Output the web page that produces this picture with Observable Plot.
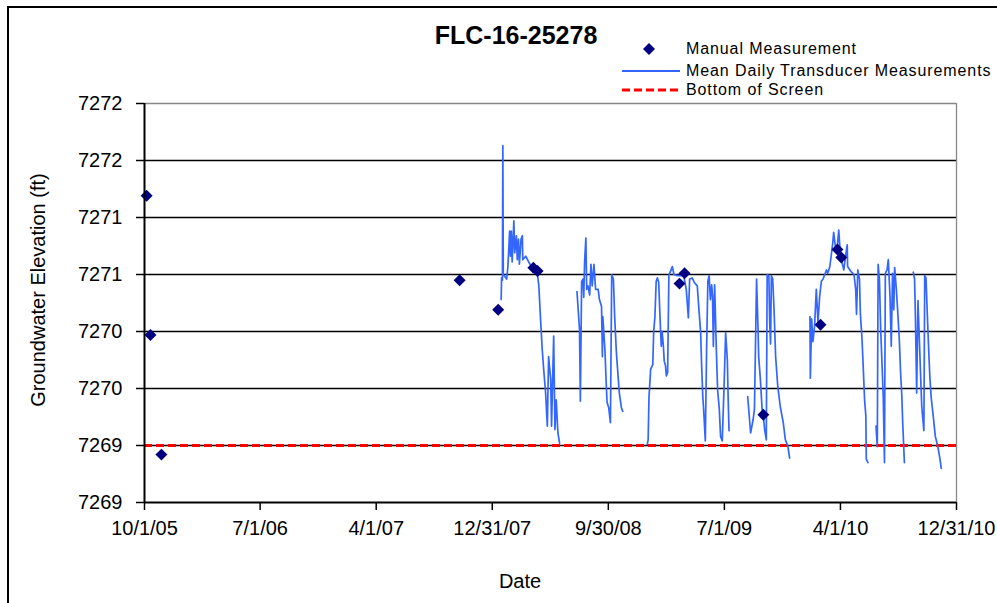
<!DOCTYPE html>
<html><head><meta charset="utf-8">
<script src="https://cdn.jsdelivr.net/npm/d3@7"></script>
<script src="https://cdn.jsdelivr.net/npm/@observablehq/plot@0.6"></script>
<style>
html,body{margin:0;padding:0;background:#fff;}
#wrap{position:relative;width:997px;height:603px;overflow:hidden;font-family:"Liberation Sans",Arial,sans-serif;background:#fff;}
#chart{position:absolute;left:0;top:0;}
#frame{position:absolute;left:7px;top:6px;width:1100px;height:800px;border:2px solid #000;box-sizing:border-box;background:transparent;}
.t{position:absolute;white-space:nowrap;color:#000;line-height:1;}
.lg{position:absolute;left:618px;height:16px;display:flex;align-items:center;font-size:16px;letter-spacing:0.9px;line-height:16px;white-space:nowrap;}
.lg svg{width:64px;height:16px;margin-right:4px;flex:none;}
</style></head><body>
<div id="wrap">
<div id="chart"></div>
<div id="frame"></div>
<div class="t" style="left:516px;top:35px;transform:translate(-50%,-50%);font-size:25px;font-weight:bold">FLC-16-25278</div>
<div class="t" style="left:38px;top:290px;transform:translate(-50%,-50%) rotate(-90deg);font-size:20px">Groundwater Elevation (ft)</div>
<div class="t" style="left:520px;top:581px;transform:translate(-50%,-50%);font-size:20px">Date</div>
<div class="lg" style="top:41px"><svg><path d="M31,2 L37,8 L31,14 L25,8 Z" fill="#000080"/></svg>Manual Measurement</div>
<div class="lg" style="top:63px"><svg><line x1="4" y1="8" x2="62" y2="8" stroke="#3366ff" stroke-width="2"/></svg>Mean Daily Transducer Measurements</div>
<div class="lg" style="top:82px"><svg><line x1="4" y1="8" x2="62" y2="8" stroke="#ff0000" stroke-width="3" stroke-dasharray="8,4"/></svg>Bottom of Screen</div>
</div>
<script>
// ---- data ----
const xStart = "2005-10-01";
const xEnd = "2010-12-31";
const xTickDates = ["2005-10-01","2006-07-01","2007-04-01","2007-12-31","2008-09-30","2009-07-01","2010-04-01","2010-12-31"];
const yTicks = [7268.5, 7269, 7269.5, 7270, 7270.5, 7271, 7271.5, 7272];
const bottomOfScreen = 7269.0;

const manualDates = ["2005-10-06","2005-10-15","2005-11-10","2007-10-15","2008-01-14","2008-04-06","2008-04-16","2009-03-17","2009-03-29","2009-10-01","2010-02-13","2010-03-25","2010-04-03"];
const manualLevels = [7271.19, 7269.97, 7268.92, 7270.45, 7270.19, 7270.56, 7270.53, 7270.42, 7270.51, 7269.27, 7270.06, 7270.72, 7270.65];

const run1 = [["2008-01-21",7270.28],["2008-01-22",7270.47],["2008-01-24",7270.45],["2008-01-25",7271.63],["2008-01-26",7270.50],["2008-02-03",7270.46],["2008-02-06",7270.57],["2008-02-10",7270.88],["2008-02-12",7270.66],["2008-02-14",7270.88],["2008-02-16",7270.61],["2008-02-20",7270.97],["2008-02-22",7270.69],["2008-02-26",7270.84],["2008-02-28",7270.63],["2008-03-02",7270.81],["2008-03-04",7270.59],["2008-03-08",7270.81],["2008-03-11",7270.84],["2008-03-12",7270.63],["2008-03-19",7270.66],["2008-03-26",7270.61],["2008-04-03",7270.56],["2008-04-15",7270.52],["2008-04-19",7270.40],["2008-04-23",7270.11],["2008-04-27",7269.84],["2008-05-01",7269.64],["2008-05-05",7269.46],["2008-05-09",7269.17],["2008-05-12",7269.78],["2008-05-17",7269.58],["2008-05-19",7269.17],["2008-05-24",7269.96],["2008-05-27",7269.14],["2008-05-30",7269.40],["2008-06-03",7269.11],["2008-06-07",7269.02]];
const run2 = [["2008-07-18",7270.35],["2008-07-24",7270.02],["2008-07-26",7269.39],["2008-07-29",7270.44],["2008-08-01",7270.46],["2008-08-03",7270.30],["2008-08-05",7270.61],["2008-08-08",7270.82],["2008-08-10",7270.37],["2008-08-13",7270.40],["2008-08-17",7270.32],["2008-08-20",7270.59],["2008-08-23",7270.40],["2008-08-27",7270.59],["2008-08-31",7270.37],["2008-09-06",7270.37],["2008-09-09",7270.28],["2008-09-14",7270.22],["2008-09-16",7269.78],["2008-09-17",7270.13],["2008-09-22",7269.84],["2008-09-25",7269.55],["2008-09-27",7269.38],["2008-10-01",7269.33],["2008-10-05",7269.20],["2008-10-08",7270.50],["2008-10-12",7270.46],["2008-10-15",7270.13],["2008-10-19",7269.82],["2008-10-23",7269.61],["2008-10-26",7269.46],["2008-10-31",7269.33],["2008-11-03",7269.30]];
const run3 = [["2008-12-31",7269.01],["2009-01-02",7269.05],["2009-01-04",7269.42],["2009-01-08",7269.67],["2009-01-13",7269.71],["2009-01-15",7269.99],["2009-01-18",7270.13],["2009-01-21",7270.44],["2009-01-24",7270.47],["2009-01-27",7270.43],["2009-01-30",7270.13],["2009-02-02",7269.87],["2009-02-04",7270.00],["2009-02-07",7269.87],["2009-02-09",7269.74],["2009-02-12",7269.70],["2009-02-14",7269.61],["2009-02-17",7269.64],["2009-02-20",7270.49],["2009-02-24",7270.53],["2009-02-28",7270.57],["2009-03-04",7270.50],["2009-03-12",7270.49],["2009-03-19",7270.49],["2009-03-27",7270.49],["2009-04-02",7270.37],["2009-04-07",7270.12],["2009-04-10",7270.46],["2009-04-16",7270.47],["2009-04-21",7270.43],["2009-04-28",7270.40],["2009-05-02",7270.19],["2009-05-06",7269.99],["2009-05-08",7269.73],["2009-05-11",7269.43],["2009-05-13",7269.32],["2009-05-17",7269.04],["2009-05-20",7269.84],["2009-05-23",7270.44],["2009-05-26",7270.49],["2009-05-29",7270.28],["2009-06-01",7270.41],["2009-06-03",7270.31],["2009-06-05",7269.87],["2009-06-08",7270.41],["2009-06-10",7270.13],["2009-06-12",7269.84],["2009-06-15",7269.49],["2009-06-19",7269.32],["2009-06-22",7269.08],["2009-06-26",7269.04],["2009-06-30",7269.49],["2009-07-04",7269.99],["2009-07-08",7269.75],["2009-07-10",7269.40],["2009-07-12",7269.13]];
const run4 = [["2009-08-25",7269.43],["2009-09-01",7269.11],["2009-09-07",7269.23],["2009-09-10",7269.32],["2009-09-15",7270.46],["2009-09-18",7270.08],["2009-09-20",7269.78],["2009-09-24",7269.58],["2009-09-28",7269.32],["2009-10-01",7269.26],["2009-10-04",7269.14],["2009-10-08",7269.05],["2009-10-10",7270.50],["2009-10-14",7270.49],["2009-10-16",7270.08],["2009-10-18",7269.89],["2009-10-20",7270.49],["2009-10-23",7270.46],["2009-10-26",7270.22],["2009-10-30",7269.78],["2009-11-04",7269.52],["2009-11-10",7269.34],["2009-11-17",7269.20],["2009-11-22",7269.05],["2009-11-28",7268.99],["2009-12-02",7268.89]];
const run5 = [["2010-01-19",7270.13],["2010-01-20",7269.59],["2010-01-23",7270.11],["2010-01-26",7269.91],["2010-01-30",7270.05],["2010-02-03",7270.37],["2010-02-07",7270.08],["2010-02-11",7270.31],["2010-02-15",7270.44],["2010-02-19",7270.46],["2010-02-23",7270.50],["2010-02-27",7270.54],["2010-03-02",7270.51],["2010-03-07",7270.57],["2010-03-10",7270.66],["2010-03-14",7270.78],["2010-03-16",7270.87],["2010-03-20",7270.75],["2010-03-24",7270.72],["2010-03-28",7270.89],["2010-03-31",7270.72],["2010-04-05",7270.60],["2010-04-09",7270.54],["2010-04-13",7270.66],["2010-04-17",7270.76],["2010-04-18",7270.57],["2010-04-25",7270.53],["2010-05-03",7270.50],["2010-05-07",7270.37],["2010-05-09",7270.15],["2010-05-12",7270.54],["2010-05-16",7270.46],["2010-05-18",7270.16],["2010-05-22",7269.93],["2010-05-25",7269.67],["2010-05-28",7269.40],["2010-05-31",7269.26],["2010-06-01",7268.88],["2010-06-05",7268.85]];
const run6 = [["2010-06-24",7269.17],["2010-06-27",7268.99],["2010-06-29",7270.59],["2010-07-02",7270.46],["2010-07-05",7270.02],["2010-07-08",7269.73],["2010-07-11",7269.43],["2010-07-14",7268.85],["2010-07-16",7270.51],["2010-07-20",7270.54],["2010-07-23",7270.63],["2010-07-27",7270.31],["2010-07-30",7269.87],["2010-08-02",7270.51],["2010-08-05",7270.19],["2010-08-07",7270.56],["2010-08-11",7270.37],["2010-08-14",7270.19],["2010-08-18",7269.93],["2010-08-21",7269.64],["2010-08-24",7269.43],["2010-08-26",7269.20],["2010-08-30",7268.85]];
const run7 = [["2010-09-20",7270.52],["2010-09-23",7270.46],["2010-09-25",7270.13],["2010-09-28",7269.46],["2010-10-01",7270.27],["2010-10-04",7269.96],["2010-10-07",7269.64],["2010-10-10",7269.34],["2010-10-15",7269.13],["2010-10-17",7270.49],["2010-10-20",7270.47],["2010-10-23",7270.16],["2010-10-26",7269.87],["2010-10-29",7269.61],["2010-11-01",7269.43],["2010-11-06",7269.26],["2010-11-11",7269.08],["2010-11-17",7268.99],["2010-11-22",7268.88],["2010-11-25",7268.80]];

// ---- build ----
const runs = [run1, run2, run3, run4, run5, run6, run7];
const transducer = runs.flatMap((r, i) => r.map(([d, v]) => ({date: new Date(d), level: v, run: i})));
const manual = manualDates.map((d, i) => ({date: new Date(d), level: manualLevels[i]}));
const dStart = new Date(xStart), dEnd = new Date(xEnd);
const xTicks = xTickDates.map(d => new Date(d));
const fmt = d3.utcFormat("%-m/%-d/%y");
const innerGrid = yTicks.filter(t => t > yTicks[0] && t < yTicks[yTicks.length - 1]);

const chart = Plot.plot({
  width: 997, height: 603,
  marginLeft: 144, marginRight: 41, marginTop: 103, marginBottom: 101,
  x: {type: "utc", domain: [dStart, dEnd]},
  y: {domain: [yTicks[0], yTicks[yTicks.length - 1]]},
  style: {fontFamily: "'Liberation Sans', Arial, sans-serif", fontSize: "20px", background: "transparent", color: "#000", overflow: "visible"},
  marks: [
    Plot.ruleY(innerGrid, {stroke: "#000", strokeWidth: 1.3}),
    Plot.ruleY([yTicks[yTicks.length - 1]], {stroke: "#888", strokeWidth: 1.3}),
    Plot.ruleX([dEnd], {stroke: "#888", strokeWidth: 1.3}),
    Plot.ruleY([bottomOfScreen], {stroke: "#ff0000", strokeWidth: 3, strokeDasharray: "8,4"}),
    Plot.line(transducer, {x: "date", y: "level", z: "run", stroke: "#3366ff", strokeWidth: 1.7, curve: "linear"}),
    Plot.dot(manual, {x: "date", y: "level", symbol: "diamond2", r: 5.4, fill: "#000080", stroke: "none"}),
    Plot.ruleX([dStart], {stroke: "#000", strokeWidth: 2}),
    Plot.ruleY([yTicks[0]], {stroke: "#000", strokeWidth: 2}),
    Plot.axisX(xTicks, {tickSize: 8, tickPadding: 10, tickFormat: fmt, label: null, fontSize: 20, strokeWidth: 1.5}),
    Plot.axisY(yTicks, {tickSize: 8, tickPadding: 14, tickFormat: d => String(Math.round(d)), label: null, fontSize: 20, strokeWidth: 1.5})
  ]
});
document.getElementById("chart").appendChild(chart);
</script>
</body></html>
